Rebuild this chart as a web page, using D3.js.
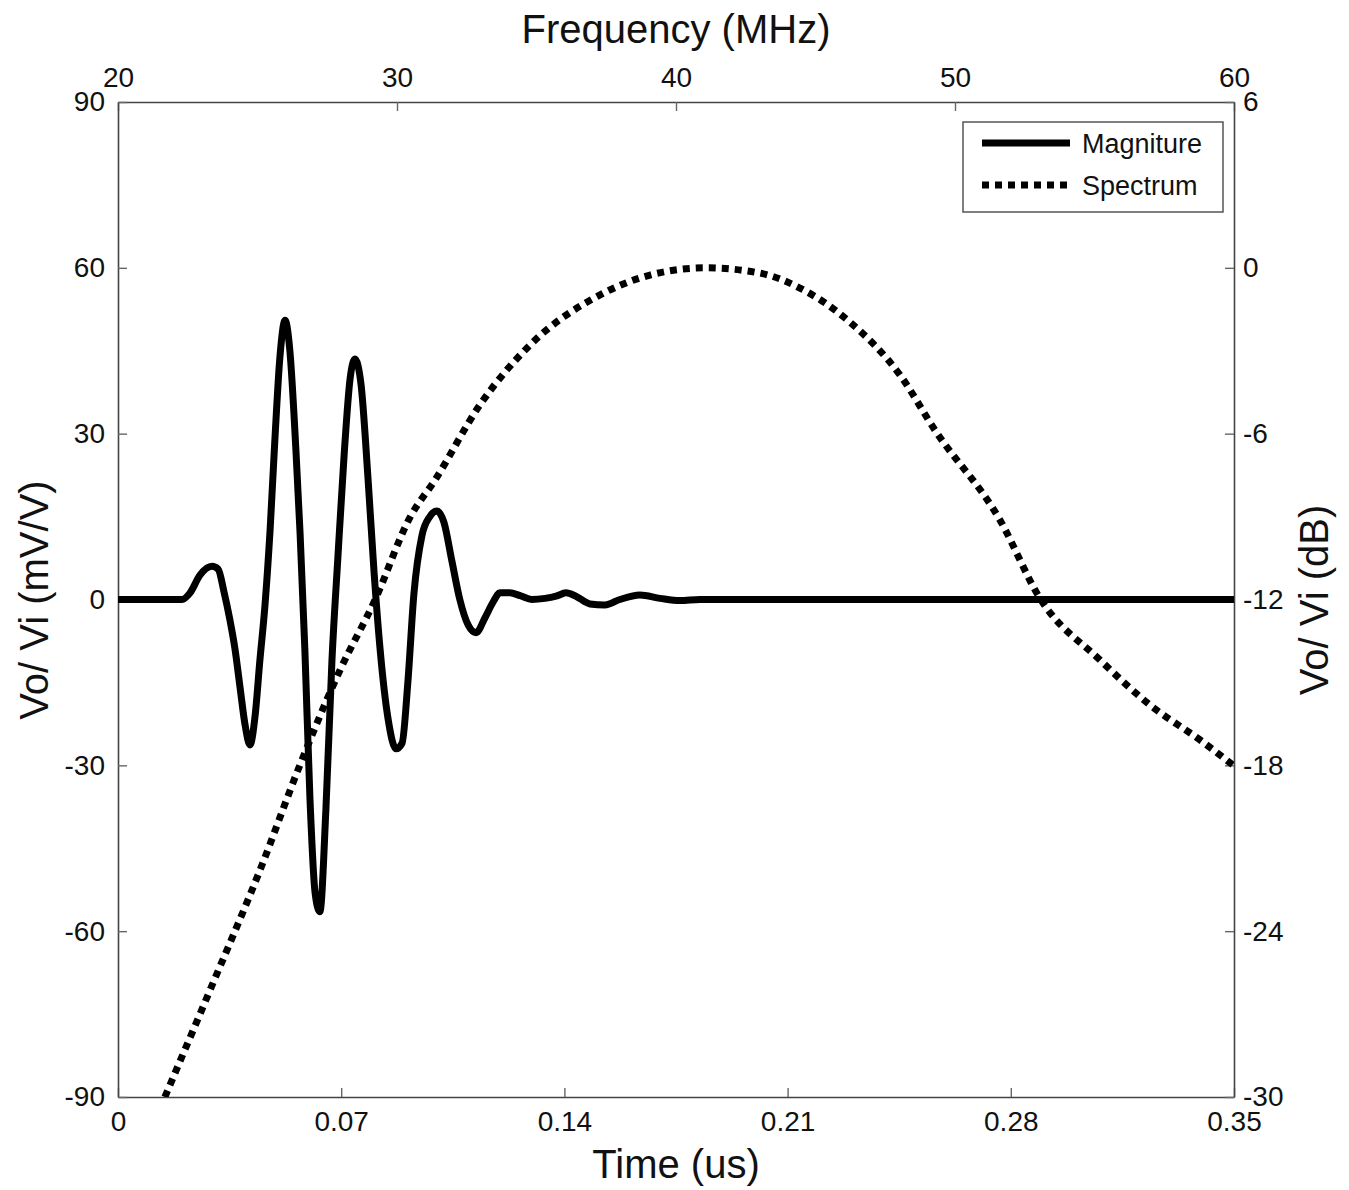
<!DOCTYPE html>
<html>
<head>
<meta charset="utf-8">
<script src="https://cdn.jsdelivr.net/npm/d3@7"></script>
<style>
  body { margin: 0; background: #fff; }
  text { font-family: "Liberation Sans", Arial, sans-serif; fill: #111; }
</style>
</head>
<body>
<svg id="chart" width="1349" height="1190"></svg>
<script>
// magnitude trace (time in us, mV/V)
const magTime = [0, 0.0201, 0.0226, 0.0257, 0.0295, 0.0314, 0.0332, 0.0351, 0.0367, 0.0383, 0.0398,
  0.0414, 0.0430, 0.0445, 0.0461, 0.0477, 0.0492, 0.0508, 0.0524, 0.0539, 0.0558, 0.0571, 0.0586,
  0.0602, 0.0618, 0.0633, 0.0652, 0.0671, 0.0690, 0.0709, 0.0728, 0.0743, 0.0762, 0.0784, 0.0803,
  0.0822, 0.0847, 0.0872, 0.0891, 0.0909, 0.0928, 0.0953, 0.0978, 0.1000, 0.1022, 0.1047, 0.1072,
  0.1098, 0.1123, 0.1151, 0.1176, 0.1198, 0.1229, 0.1261, 0.1298, 0.1339, 0.1374, 0.1405, 0.1436,
  0.1480, 0.1527, 0.1574, 0.1637, 0.1700, 0.1762, 0.1825, 0.35];
const magValue = [0, 0, 1.2, 4.4, 6.0, 5.5, 1.5, -3.7, -9, -16, -22.5,
  -26.3, -21, -11, -1, 12.6, 28.9, 44, 50.5, 45, 27, 12, -9,
  -36, -53, -56.5, -38, -11, 8, 26, 40, 43.5, 39, 22, 5,
  -9, -21.6, -27, -26, -15, 1, 11.5, 15, 16, 14, 7, 0,
  -4.6, -6, -3.3, -0.5, 1.2, 1.2, 0.7, 0, 0.2, 0.6, 1.2, 0.6,
  -0.8, -1, 0, 0.8, 0.2, -0.2, 0, 0];

// spectrum (frequency in MHz, dB)
const specFreq = [21.68, 23.30, 25.09, 26.52, 27.96, 29.21, 30.47, 31.36, 32.97, 34.77, 37.28, 39.07,
  41.04, 43.01, 44.44, 46.23, 48.03, 49.28, 51.61, 53.04, 55.20, 56.99, 58.78, 60.0];
const specDb = [-30.0, -26.13, -21.79, -17.99, -14.55, -12.02, -9.02, -7.68, -4.96, -2.79, -0.98, -0.26,
  0, -0.19, -0.73, -1.96, -3.88, -5.87, -9.12, -11.95, -14.19, -15.82, -17.08, -18.02];

const timeTicks = [0, 0.07, 0.14, 0.21, 0.28, 0.35];
const freqTicks = [20, 30, 40, 50, 60];
const mvTicks = [-90, -60, -30, 0, 30, 60, 90];
const dbTicks = [-30, -24, -18, -12, -6, 0, 6];

const svg = d3.select('#chart');
const pLeft = 118, pRight = 1234, pTop = 102, pBottom = 1097;

const x = d3.scaleLinear().domain([0, 0.35]).range([pLeft, pRight]);
const xf = d3.scaleLinear().domain([20, 60]).range([pLeft, pRight]);
const y = d3.scaleLinear().domain([-90, 90]).range([pBottom, pTop]);
const yd = d3.scaleLinear().domain([-30, 6]).range([pBottom, pTop]);

svg.append('defs').append('clipPath').attr('id', 'clip')
  .append('rect')
  .attr('x', pLeft).attr('y', pTop)
  .attr('width', pRight - pLeft).attr('height', pBottom - pTop);

// plain hyphen for negatives, like the original
const plain = d => String(d);

// axes, ticks pointing inward
function styleAxis(g) {
  g.select('.domain').attr('stroke', '#444').attr('stroke-width', 1.6);
  g.selectAll('.tick line').attr('stroke', '#666').attr('stroke-width', 1.4);
  g.selectAll('.tick text').style('font-size', '28px').attr('fill', '#111');
}

svg.append('g')
  .attr('transform', `translate(0,${pBottom})`)
  .call(d3.axisBottom(x).tickValues(timeTicks).tickSize(-9).tickSizeOuter(0).tickPadding(14)
    .tickFormat(d => d === 0 ? '0' : d3.format('.2f')(d)))
  .call(styleAxis);

svg.append('g')
  .attr('transform', `translate(0,${pTop})`)
  .call(d3.axisTop(xf).tickValues(freqTicks).tickSize(-9).tickSizeOuter(0).tickPadding(15)
    .tickFormat(plain))
  .call(styleAxis);

svg.append('g')
  .attr('transform', `translate(${pLeft},0)`)
  .call(d3.axisLeft(y).tickValues(mvTicks).tickSize(-9).tickSizeOuter(0).tickPadding(13)
    .tickFormat(plain))
  .call(styleAxis);

svg.append('g')
  .attr('transform', `translate(${pRight},0)`)
  .call(d3.axisRight(yd).tickValues(dbTicks).tickSize(-9).tickSizeOuter(0).tickPadding(9)
    .tickFormat(plain))
  .call(styleAxis);

// axis titles
svg.append('text')
  .attr('x', (pLeft + pRight) / 2).attr('y', 43)
  .attr('text-anchor', 'middle')
  .style('font-size', '40px')
  .text('Frequency (MHz)');

svg.append('text')
  .attr('x', (pLeft + pRight) / 2).attr('y', 1178)
  .attr('text-anchor', 'middle')
  .style('font-size', '40px')
  .text('Time (us)');

svg.append('text')
  .attr('transform', 'translate(48,600) rotate(-90)')
  .attr('text-anchor', 'middle')
  .style('font-size', '40px')
  .text('Vo/ Vi (mV/V)');

svg.append('text')
  .attr('transform', 'translate(1328,600) rotate(-90)')
  .attr('text-anchor', 'middle')
  .style('font-size', '40px')
  .text('Vo/ Vi (dB)');

// lines
const magLine = d3.line()
  .x((d, i) => x(magTime[i]))
  .y(d => y(d))
  .curve(d3.curveMonotoneX);

const specLine = d3.line()
  .x((d, i) => xf(specFreq[i]))
  .y(d => yd(d))
  .curve(d3.curveMonotoneX);

const plot = svg.append('g').attr('clip-path', 'url(#clip)');

plot.append('path')
  .attr('d', magLine(magValue))
  .attr('fill', 'none')
  .attr('stroke', '#000')
  .attr('stroke-width', 7)
  .attr('stroke-linejoin', 'round');

plot.append('path')
  .attr('d', specLine(specDb))
  .attr('fill', 'none')
  .attr('stroke', '#000')
  .attr('stroke-width', 7)
  .attr('stroke-dasharray', '7,6');

// legend
const lg = svg.append('g');
lg.append('rect')
  .attr('x', 963).attr('y', 122)
  .attr('width', 260).attr('height', 90)
  .attr('fill', '#fff')
  .attr('stroke', '#555')
  .attr('stroke-width', 1.5);

const legendItems = [
  { name: 'Magniture', dash: null, yy: 143 },
  { name: 'Spectrum', dash: '7,6', yy: 185 }
];
legendItems.forEach(item => {
  lg.append('line')
    .attr('x1', 982).attr('x2', 1070)
    .attr('y1', item.yy).attr('y2', item.yy)
    .attr('stroke', '#000')
    .attr('stroke-width', 7)
    .attr('stroke-dasharray', item.dash);
  lg.append('text')
    .attr('x', 1082).attr('y', item.yy + 10)
    .style('font-size', '27px')
    .text(item.name);
});
</script>
</body>
</html>
